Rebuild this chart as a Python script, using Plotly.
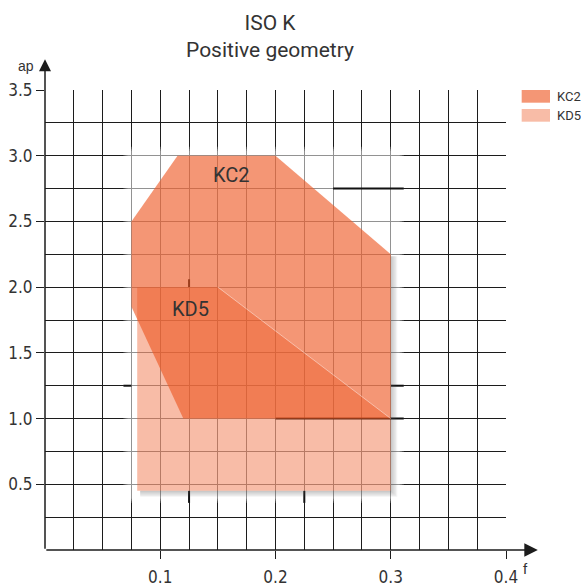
import plotly.graph_objects as go

# Application windows (feed f in mm/rev, depth of cut ap in mm)
grade_names = ["KC2", "KD5"]
feed_kc2 = [0.075, 0.115, 0.2, 0.3, 0.3, 0.12, 0.075]
ap_kc2 = [2.5, 3.0, 3.0, 2.25, 1.0, 1.0, 1.85]
feed_kd5 = [0.08, 0.15, 0.3, 0.3, 0.08]
ap_kd5 = [2.0, 2.0, 1.0, 0.45, 0.45]

# In-plot grade labels (position in data units)
label_feed = [0.162, 0.1265]
label_ap = [2.855, 1.835]

x_ticks = [0.1, 0.2, 0.3, 0.4]
y_ticks = [0.5, 1.0, 1.5, 2.0, 2.5, 3.0, 3.5]

BASE = "238,88,36"
alphas = [0.63, 0.40]
TXT = "#333333"
INK = "#1c1c1c"
TICK_FONT = dict(family="Liberation Sans Narrow, Arial Narrow, DejaVu Sans Condensed, sans-serif",
                 size=17, color=TXT)

# size of one screen pixel in data units (plot area 461 x 460 px)
PX_F = 0.4 / 461
PX_AP = 3.5 / 460

fig = go.Figure()
for name, fx, fy, a in zip(grade_names, [feed_kc2, feed_kd5], [ap_kc2, ap_kd5], alphas):
    fig.add_trace(go.Scatter(
        x=fx + fx[:1], y=fy + fy[:1], name=name, mode="lines",
        fill="toself", fillcolor=f"rgba({BASE},{a})",
        line=dict(width=0, color=f"rgba({BASE},0)"),
        hoverinfo="name", showlegend=False,
    ))

# faint highlight along the sloped upper edge of KD5
fig.add_trace(go.Scatter(x=feed_kd5[1:3], y=ap_kd5[1:3], mode="lines",
                         line=dict(color="rgba(255,255,255,0.45)", width=1),
                         hoverinfo="skip", showlegend=False))

for name, lx, ly in zip(grade_names, label_feed, label_ap):
    fig.add_annotation(x=lx, y=ly, text=name, showarrow=False,
                       font=dict(family="Roboto", size=20, color=TXT))

# soft white haze behind the windows (lightens the grid there)
fx_all = feed_kc2 + feed_kd5
ap_all = ap_kc2 + ap_kd5
hx0, hx1 = min(fx_all) - 8 * PX_F, max(fx_all) + 13 * PX_F
hy0, hy1 = min(ap_all) - 12 * PX_AP, max(ap_all) + 9 * PX_AP
for k, op in enumerate([0.22, 0.22, 0.22]):
    fig.add_shape(type="rect", xref="x", yref="y",
                  x0=hx0 + k * 2 * PX_F, x1=hx1 - k * 2 * PX_F,
                  y0=hy0 + k * 2 * PX_AP, y1=hy1 - k * 2 * PX_AP,
                  fillcolor=f"rgba(255,255,255,{op})", line=dict(width=0), layer="between")

# a few grid strokes that stay dark through the haze
dark_h = [(2.75, 0.25, hx1), (1.0, 0.2, hx1), (1.25, 0.3, hx1), (1.25, hx0, 0.075)]
for yv, xa, xb in dark_h:
    fig.add_shape(type="line", xref="x", yref="y", x0=xa, x1=xb, y0=yv, y1=yv,
                  line=dict(color="#111111", width=2), layer="between")
dark_v = [(0.125, hy0, 0.45), (0.225, hy0, 0.45), (0.125, 2.0, 2.06)]
for xv, ya, yb in dark_v:
    fig.add_shape(type="line", xref="x", yref="y", x0=xv, x1=xv, y0=ya, y1=yb,
                  line=dict(color="#111111", width=2), layer="between")

# drop shadow along the right and lower edges of the windows
right = max(fx_all)
bottom = min(ap_all)
for k in range(1, 6):
    fig.add_shape(type="rect", xref="x", yref="y",
                  x0=right, x1=right + k * 1.3 * PX_F,
                  y0=bottom - k * 1.2 * PX_AP, y1=ap_kc2[3] - 2 * PX_AP,
                  fillcolor="rgba(90,90,90,0.07)", line=dict(width=0), layer="between")
    fig.add_shape(type="rect", xref="x", yref="y",
                  x0=min(feed_kd5) + 3 * PX_F, x1=right,
                  y0=bottom - k * 1.2 * PX_AP, y1=bottom,
                  fillcolor="rgba(90,90,90,0.07)", line=dict(width=0), layer="between")

# custom legend
sw_x0, sw_x1 = 1.034, 1.0955
for i, (name, a) in enumerate(zip(grade_names, alphas)):
    top = 1.0 - i * 0.0413
    fig.add_shape(type="rect", xref="paper", yref="paper", x0=sw_x0, x1=sw_x1,
                  y0=top - 0.0276, y1=top, fillcolor=f"rgba({BASE},{a})",
                  line=dict(width=0))
    fig.add_annotation(xref="paper", yref="paper", x=1.106, y=top - 0.0138,
                       xanchor="left", yanchor="middle", text=name, showarrow=False,
                       font=dict(family="Roboto", size=13, color=TXT))

# axis arrows
fig.add_annotation(xref="paper", yref="paper", x=1.069, y=0, ax=-493, ay=0,
                   axref="pixel", ayref="pixel", text="", showarrow=True,
                   arrowhead=2, arrowsize=1.8, arrowwidth=1.5, arrowcolor=INK)
fig.add_annotation(xref="paper", yref="paper", x=0, y=1.067, ax=0, ay=491,
                   axref="pixel", ayref="pixel", text="", showarrow=True,
                   arrowhead=2, arrowsize=1.6, arrowwidth=1.5, arrowcolor=INK)
fig.add_annotation(xref="paper", yref="paper", x=-0.02, y=1.053, xanchor="right",
                   yanchor="middle", text="ap", showarrow=False,
                   font=dict(family="Liberation Sans", size=14, color=TXT))
fig.add_annotation(xref="paper", yref="paper", x=1.043, y=-0.041, xanchor="center",
                   yanchor="middle", text="f", showarrow=False,
                   font=dict(family="Liberation Sans", size=15, color=TXT))

fig.update_xaxes(range=[0, 0.4], tickvals=x_ticks, ticktext=[f"{v:.1f}" for v in x_ticks],
                 ticks="outside", ticklen=8, tickwidth=1.3, tickcolor=INK,
                 ticklabelstandoff=4,
                 showgrid=True, gridcolor=INK, gridwidth=1,
                 minor=dict(dtick=0.025, tick0=0, showgrid=True, gridcolor=INK, gridwidth=1),
                 showline=False, zeroline=False, tickfont=TICK_FONT, fixedrange=True,
                 automargin=False)
fig.update_yaxes(range=[0, 3.5], tickvals=y_ticks, ticktext=[f"{v:.1f}" for v in y_ticks],
                 ticks="outside", ticklen=8, tickwidth=1.3, tickcolor=INK,
                 showgrid=True, gridcolor=INK, gridwidth=1,
                 minor=dict(dtick=0.25, tick0=0, showgrid=True, gridcolor=INK, gridwidth=1),
                 showline=False, zeroline=False, tickfont=TICK_FONT, fixedrange=True,
                 automargin=False)

fig.update_layout(
    width=581, height=588,
    margin=dict(l=45, r=75, t=90, b=38, autoexpand=False),
    paper_bgcolor="white", plot_bgcolor="white",
    title=dict(text="ISO K<br>Positive geometry", x=270 / 581, xanchor="center",
               y=1 - 30 / 588, yanchor="top", yref="container",
               font=dict(family="Roboto", size=21, color=TXT)),
    showlegend=False,
)

fig.write_html("out.html")
